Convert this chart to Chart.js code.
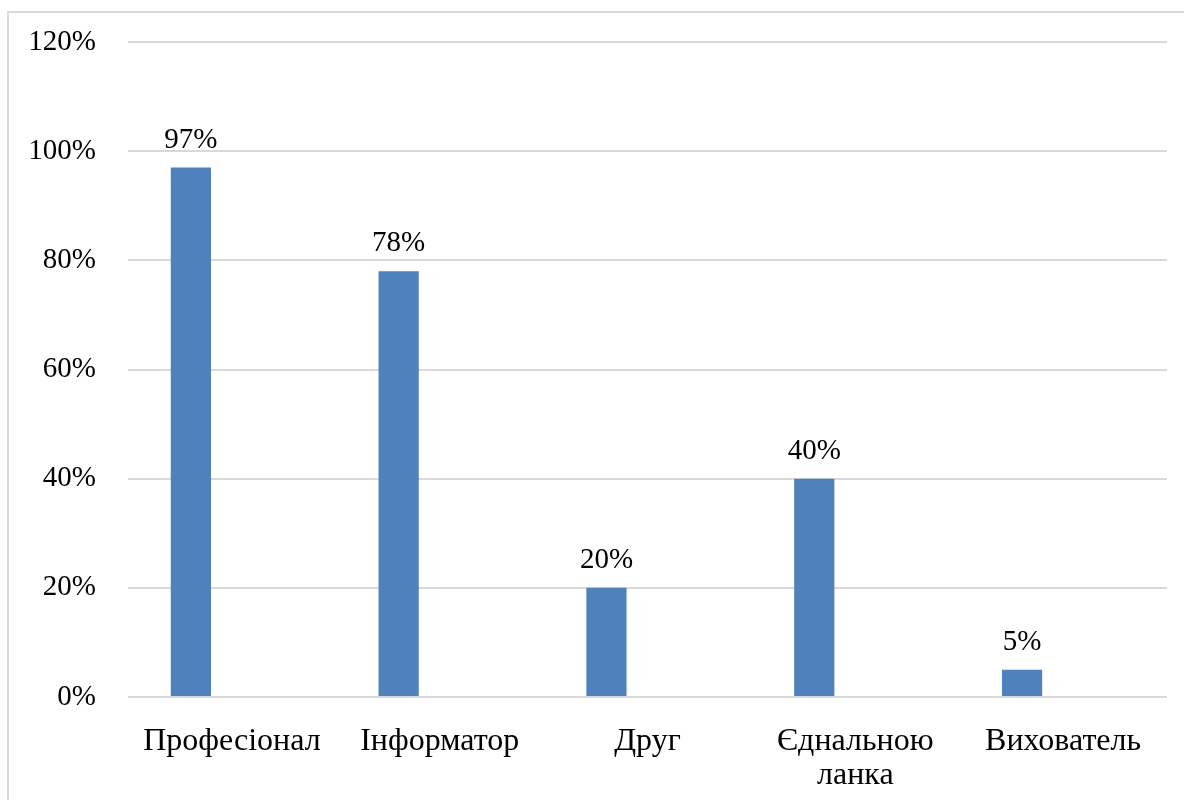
<!DOCTYPE html>
<html>
<head>
<meta charset="utf-8">
<script src="https://cdn.jsdelivr.net/npm/chart.js@4/dist/chart.umd.min.js"></script>
<style>
    html, body { margin: 0; padding: 0; background: #fff; }
    #wrap { width: 1184px; height: 800px; position: relative; }
</style>
</head>
<body>
<div id="wrap"><canvas id="roleChart"></canvas></div>
<script>
const categories = ['Професіонал', 'Інформатор', 'Друг', ['Єднальною', 'ланка'], 'Вихователь'];
const shares = [97, 78, 20, 40, 5];
const emptySeries = [null, null, null, null, null];
const yTicks = [0, 20, 40, 60, 80, 100, 120];

const serif = '"Liberation Serif", "Times New Roman", serif';

// frame around the picture
const framePlugin = {
    id: 'frame',
    beforeDraw(chart) {
        const c = chart.ctx;
        c.save();
        c.strokeStyle = '#d9d9d9';
        c.lineWidth = 2;
        c.strokeRect(8, 12, 1200, 820);
        c.restore();
    }
};

// value labels above the bars
const valueLabels = {
    id: 'valueLabels',
    afterDatasetsDraw(chart) {
        const c = chart.ctx;
        const meta = chart.getDatasetMeta(0);
        c.save();
        c.font = '29px ' + serif;
        c.fillStyle = '#000';
        c.textAlign = 'center';
        c.textBaseline = 'bottom';
        meta.data.forEach((bar, i) => {
            c.fillText(shares[i] + '%', bar.x, bar.y - 13);
        });
        c.restore();
    }
};

new Chart(document.getElementById('roleChart'), {
    type: 'bar',
    data: {
        labels: categories,
        datasets: [
            {
                label: 'Ряд 1',
                data: shares,
                backgroundColor: '#4f81bd',
                categoryPercentage: 0.79,
                barPercentage: 0.49
            },
            {
                label: 'Ряд 2',
                data: emptySeries,
                backgroundColor: '#c0504d',
                categoryPercentage: 0.79,
                barPercentage: 0.49
            }
        ]
    },
    options: {
        responsive: true,
        maintainAspectRatio: false,
        devicePixelRatio: 1,
        animation: false,
        layout: { padding: { left: 8, right: 17, top: 42, bottom: 0 } },
        plugins: {
            legend: { display: false },
            tooltip: { enabled: false }
        },
        scales: {
            x: {
                grid: { display: false },
                border: { display: false },
                ticks: {
                    color: '#000',
                    font: { family: serif, size: 32, lineHeight: 1.05 },
                    padding: 20,
                    maxRotation: 0,
                    autoSkip: false
                },
                afterFit(scale) { scale.height = 103; }
            },
            y: {
                min: 0,
                max: 120,
                afterBuildTicks(scale) { scale.ticks = yTicks.map(v => ({ value: v })); },
                grid: { color: '#d9d9d9', lineWidth: 2, drawTicks: false },
                border: { display: false },
                ticks: {
                    color: '#000',
                    font: { family: serif, size: 29 },
                    padding: 32,
                    callback: v => v + '%'
                },
                afterFit(scale) {
                    scale.width = 120;
                    scale.paddingTop = 0;
                    scale.paddingBottom = 0;
                }
            }
        }
    },
    plugins: [framePlugin, valueLabels]
});
</script>
</body>
</html>
